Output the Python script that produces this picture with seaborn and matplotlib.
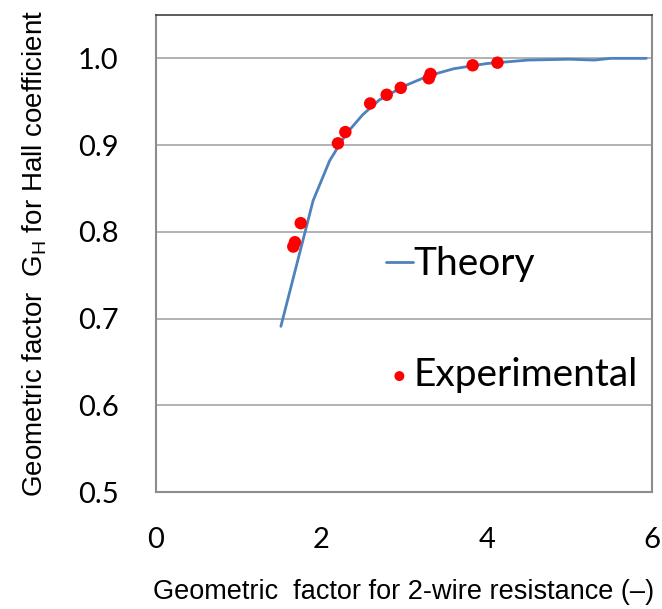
import matplotlib
matplotlib.use("Agg")
import matplotlib.pyplot as plt
import seaborn as sns
import pandas as pd
from matplotlib.ticker import MultipleLocator

# Theory curve
theory_x = [1.51, 1.90, 2.10, 2.30, 2.50, 2.70, 3.00, 3.30, 3.60, 4.00, 4.50, 5.00, 5.30, 5.50, 5.93]
theory_y = [0.691, 0.836, 0.882, 0.913, 0.935, 0.952, 0.968, 0.980, 0.988, 0.994, 0.998, 0.999, 0.998, 1.000, 1.000]

# Experimental points
exp_x = [1.66, 1.68, 1.75, 2.20, 2.29, 2.59, 2.79, 2.96, 3.30, 3.32, 3.83, 4.13]
exp_y = [0.783, 0.788, 0.810, 0.902, 0.915, 0.948, 0.958, 0.966, 0.977, 0.982, 0.992, 0.995]

sns.set_style("white")
plt.rcParams['font.family'] = ['Lato', 'DejaVu Sans']
plt.rcParams['mathtext.fontset'] = 'custom'
plt.rcParams['mathtext.rm'] = 'Liberation Sans'
plt.rcParams['text.color'] = 'black'
plt.rcParams['axes.labelcolor'] = 'black'
plt.rcParams['xtick.labelcolor'] = 'black'
plt.rcParams['ytick.labelcolor'] = 'black'

fig = plt.figure(figsize=(6.62, 6.09), dpi=100)
ax = fig.add_axes([0.2357, 0.1921, 0.985 - 0.2357, 0.9754 - 0.1921])

df_t = pd.DataFrame({"x": theory_x, "y": theory_y})
df_e = pd.DataFrame({"x": exp_x, "y": exp_y})

ax.yaxis.grid(True, color="#a6a6a6", linewidth=1.2)
ax.set_axisbelow(True)
sns.lineplot(data=df_t, x="x", y="y", ax=ax, color="#4f81bd", linewidth=2.0,
             label="Theory", sort=False, zorder=3)
sns.scatterplot(data=df_e, x="x", y="y", ax=ax, color="#ff0000", s=80,
                edgecolor="none", label="Experimental", zorder=4)

ax.set_xlim(0, 6)
ax.set_ylim(0.5, 1.05)
ax.xaxis.set_minor_locator(MultipleLocator(0.4))
ax.yaxis.set_minor_locator(MultipleLocator(0.02))
ax.set_yticks([0.5, 0.6, 0.7, 0.8, 0.9, 1.0])
ax.set_yticklabels(["0.5", "0.6", "0.7", "0.8", "0.9", "1.0"])
ax.set_xticks([0, 2, 4, 6])
ax.set_xticklabels(["0", "2", "4", "6"])

ax.tick_params(axis="both", which="major", direction="out", length=10,
               width=1.0, color="#a0a0a0", labelsize=21, pad=17)
ax.tick_params(axis="both", which="minor", direction="in", length=6,
               width=1.0, color="#a0a0a0")
ax.tick_params(axis="x", which="major", direction="inout", length=14, pad=18)

for side in ["left", "bottom", "right"]:
    ax.spines[side].set_color("#8c8c8c")
    ax.spines[side].set_linewidth(1.5)
ax.spines["top"].set_color("#404040")
ax.spines["top"].set_linewidth(1.2)

ax.set_xlabel("Geometric  factor for 2-wire resistance (–)", fontsize=19.5,
              family="Liberation Sans", labelpad=19)
ax.set_ylabel("Geometric factor  G$_\\mathrm{H}$ for Hall coefficient", fontsize=20,
              family="Liberation Sans", labelpad=21)

leg = ax.legend(loc="upper left", bbox_to_anchor=(0.424, 0.556), frameon=False,
                fontsize=28, handlelength=0.7, handletextpad=0.0,
                labelspacing=1.93, borderpad=0, markerscale=0.8)

fig.savefig("out.png", dpi=100)
